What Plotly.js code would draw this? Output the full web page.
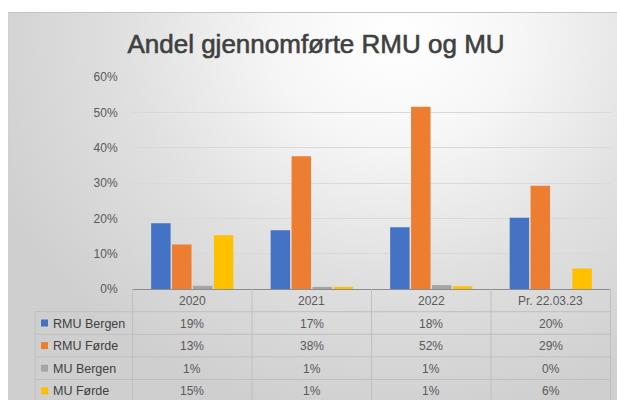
<!DOCTYPE html>
<html>
<head>
<meta charset="utf-8">
<script src="https://cdn.plot.ly/plotly-3.0.1.min.js"></script>
<style>
  html, body { margin: 0; padding: 0; background: #ffffff; }
  #wrap { position: relative; width: 617px; height: 400px; overflow: hidden; background: #ffffff; }
  #bg { position: absolute; left: 8px; top: 12px; right: 0; bottom: 0;
        border-top: 1px solid #c4c4c4; border-left: 1px solid #d0d0d0;
        background: radial-gradient(ellipse 72% 100% at 64% 6%, #ffffff 0%, #f6f6f6 28%, #e0e0e0 62%, #cfcfcf 100%); }
  #chart { position: absolute; left: 0; top: 0; width: 617px; height: 400px; }
  #chart .gtitle { stroke: #404040; stroke-width: 0.6px; }
</style>
</head>
<body>
<div id="wrap">
  <div id="bg"></div>
  <div id="chart"></div>
</div>
<script>
// ---- data ----
const categories = ["2020", "2021", "2022", "Pr. 22.03.23"];
const seriesNames = ["RMU Bergen", "RMU Førde", "MU Bergen", "MU Førde"];
const rmuBergen = [0.186, 0.166, 0.175, 0.202];
const rmuForde  = [0.126, 0.376, 0.516, 0.292];
const muBergen  = [0.009, 0.006, 0.011, 0.000];
const muForde   = [0.152, 0.006, 0.008, 0.058];
const yTickVals = [0, 0.1, 0.2, 0.3, 0.4, 0.5, 0.6];

// ---- styling ----
const colors = ["#4472C4", "#ED7D31", "#A5A5A5", "#FFC000"];
const allSeries = [rmuBergen, rmuForde, muBergen, muForde];
const FONT = "Liberation Sans, Arial, sans-serif";

const W = 617, H = 400;
const mL = 132, mR = 6, mT = 77, mB = 111;
const plotW = W - mL - mR, plotH = H - mT - mB;
const px2py = p => (H - mB - p) / plotH;   // pixel y -> paper y
const px2px = p => (p - mL) / plotW;       // pixel x -> paper x

const traces = allSeries.map((vals, i) => ({
  type: "bar",
  name: seriesNames[i],
  x: categories,
  y: vals,
  marker: { color: colors[i] },
  hoverinfo: "skip"
}));

// table geometry (pixels)
const headerTop = 289, headerBot = 311.7, rowH = 22.6;
const legendLeft = 35;

const shapes = [];
const annotations = [];

// vertical column borders at category boundaries
for (let k = 0; k <= categories.length; k++) {
  shapes.push({ type: "line", xref: "x", yref: "paper",
    x0: k - 0.5, x1: k - 0.5, y0: px2py(headerTop), y1: px2py(H + 5),
    line: { color: "#bfbfbf", width: 1 } });
}
// legend column left border
shapes.push({ type: "line", xref: "paper", yref: "paper",
  x0: px2px(legendLeft), x1: px2px(legendLeft), y0: px2py(headerBot), y1: px2py(H + 5),
  line: { color: "#bfbfbf", width: 1 } });
// horizontal row borders
for (let r = 0; r < seriesNames.length; r++) {
  const yy = px2py(headerBot + r * rowH);
  shapes.push({ type: "line", xref: "paper", yref: "paper",
    x0: px2px(legendLeft), x1: 1, y0: yy, y1: yy,
    line: { color: "#bfbfbf", width: 1 } });
}

// header labels
categories.forEach((c, k) => {
  annotations.push({ xref: "x", yref: "paper", x: k, y: px2py((headerTop + headerBot) / 2 + 0.5),
    text: c, showarrow: false, xanchor: "center", yanchor: "middle",
    font: { family: FONT, size: 12, color: "#595959" } });
});

// rows
seriesNames.forEach((name, r) => {
  const cy = headerBot + r * rowH + rowH / 2;
  // legend key square
  shapes.push({ type: "rect", xref: "paper", yref: "paper",
    x0: px2px(41), x1: px2px(48), y0: px2py(cy + 3.5), y1: px2py(cy - 3.5),
    fillcolor: colors[r], line: { width: 0 } });
  annotations.push({ xref: "paper", yref: "paper", x: px2px(50.5), y: px2py(cy + 0.5),
    text: name, showarrow: false, xanchor: "left", yanchor: "middle",
    font: { family: FONT, size: 12.5, color: "#404040" } });
  allSeries[r].forEach((v, k) => {
    annotations.push({ xref: "x", yref: "paper", x: k, y: px2py(cy + 0.5),
      text: Math.round(v * 100) + "%", showarrow: false, xanchor: "center", yanchor: "middle",
      font: { family: FONT, size: 12, color: "#595959" } });
  });
});

const layout = {
  width: W, height: H,
  margin: { l: mL, r: mR, t: mT, b: mB, pad: 0 },
  paper_bgcolor: "rgba(0,0,0,0)",
  plot_bgcolor: "rgba(0,0,0,0)",
  showlegend: false,
  barmode: "group",
  bargap: 0.3,
  bargroupgap: 0.07,
  title: {
    text: "Andel gjennomførte RMU og MU",
    xref: "container", yref: "container",
    x: 316 / W, xanchor: "center",
    y: 1 - 44 / H, yanchor: "middle",
    font: { family: FONT, size: 26, color: "#404040" }
  },
  xaxis: {
    type: "category",
    showticklabels: false,
    showgrid: false,
    zeroline: false,
    showline: true,
    linecolor: "#8c8c8c",
    linewidth: 1,
    ticks: "",
    fixedrange: true
  },
  yaxis: {
    range: [0, 0.6],
    tickvals: yTickVals,
    tickformat: ".0%",
    showgrid: true,
    gridcolor: "#d9d9d9",
    gridwidth: 1,
    zeroline: false,
    showline: false,
    ticks: "outside",
    ticklen: 11,
    tickcolor: "rgba(0,0,0,0)",
    tickfont: { family: FONT, size: 12, color: "#595959" },
    fixedrange: true
  },
  shapes: shapes,
  annotations: annotations
};

Plotly.newPlot("chart", traces, layout, { displayModeBar: false, staticPlot: true });
</script>
</body>
</html>
